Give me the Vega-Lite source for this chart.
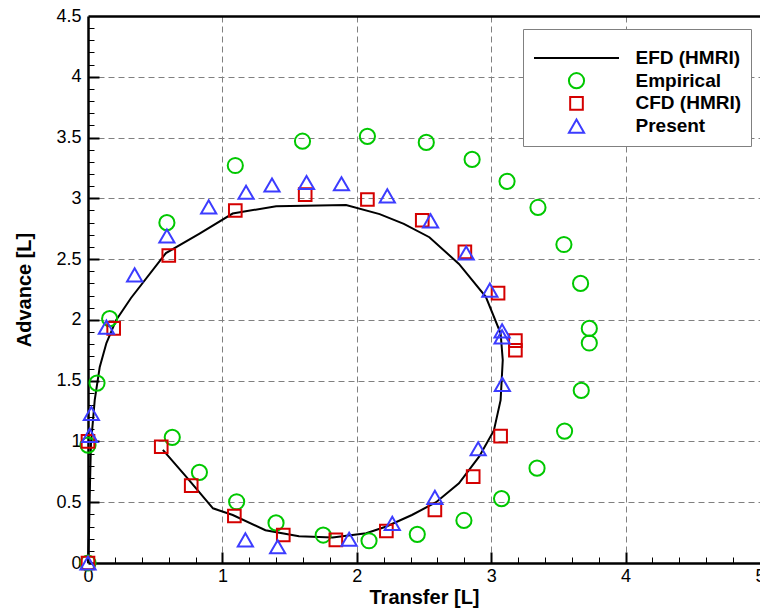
{
  "$schema": "https://vega.github.io/schema/vega-lite/v6.json",
  "width": 672,
  "height": 547,
  "autosize": {"type": "none"},
  "padding": {"left": 88, "top": 16, "right": 0, "bottom": 48},
  "config": {
    "font": "Liberation Sans",
    "view": {"stroke": null},
    "axis": {"labelColor": "black", "titleColor": "black", "domainColor": "black", "tickColor": "black"}
  },
  "datasets": {
    "efd": [
      {"i": 0, "x": 0, "y": 0},
      {"i": 1, "x": 0.007, "y": 0.24},
      {"i": 2, "x": 0.015, "y": 0.66},
      {"i": 3, "x": 0.022, "y": 0.98},
      {"i": 4, "x": 0.05, "y": 1.34},
      {"i": 5, "x": 0.087, "y": 1.61},
      {"i": 6, "x": 0.137, "y": 1.81},
      {"i": 7, "x": 0.21, "y": 2.0},
      {"i": 8, "x": 0.32, "y": 2.18},
      {"i": 9, "x": 0.58, "y": 2.55},
      {"i": 10, "x": 0.83, "y": 2.71},
      {"i": 11, "x": 1.076, "y": 2.875},
      {"i": 12, "x": 1.4, "y": 2.935},
      {"i": 13, "x": 1.92, "y": 2.945},
      {"i": 14, "x": 2.17, "y": 2.87},
      {"i": 15, "x": 2.35, "y": 2.79},
      {"i": 16, "x": 2.54, "y": 2.68},
      {"i": 17, "x": 2.76, "y": 2.46},
      {"i": 18, "x": 2.96, "y": 2.19},
      {"i": 19, "x": 3.07, "y": 1.89},
      {"i": 20, "x": 3.086, "y": 1.67},
      {"i": 21, "x": 3.07, "y": 1.34},
      {"i": 22, "x": 3.02, "y": 1.09},
      {"i": 23, "x": 2.91, "y": 0.875},
      {"i": 24, "x": 2.76, "y": 0.655},
      {"i": 25, "x": 2.59, "y": 0.5},
      {"i": 26, "x": 2.41, "y": 0.395},
      {"i": 27, "x": 2.22, "y": 0.3},
      {"i": 28, "x": 2.07, "y": 0.245},
      {"i": 29, "x": 1.82, "y": 0.21},
      {"i": 30, "x": 1.57, "y": 0.22},
      {"i": 31, "x": 1.32, "y": 0.27},
      {"i": 32, "x": 1.077, "y": 0.395},
      {"i": 33, "x": 0.93, "y": 0.45},
      {"i": 34, "x": 0.73, "y": 0.71},
      {"i": 35, "x": 0.557, "y": 0.93}
    ],
    "pts": [
      {"s": "Empirical", "x": 0, "y": 0},
      {"s": "Empirical", "x": 0, "y": 0.97},
      {"s": "Empirical", "x": 0.067, "y": 1.48},
      {"s": "Empirical", "x": 0.161, "y": 2.01},
      {"s": "Empirical", "x": 0.587, "y": 2.8},
      {"s": "Empirical", "x": 1.096, "y": 3.27},
      {"s": "Empirical", "x": 1.596, "y": 3.47},
      {"s": "Empirical", "x": 2.079, "y": 3.51},
      {"s": "Empirical", "x": 2.517, "y": 3.46},
      {"s": "Empirical", "x": 2.858, "y": 3.32},
      {"s": "Empirical", "x": 3.118, "y": 3.14},
      {"s": "Empirical", "x": 3.348, "y": 2.925},
      {"s": "Empirical", "x": 3.541, "y": 2.62},
      {"s": "Empirical", "x": 3.665, "y": 2.3},
      {"s": "Empirical", "x": 3.73, "y": 1.93},
      {"s": "Empirical", "x": 3.73, "y": 1.81},
      {"s": "Empirical", "x": 3.67, "y": 1.42},
      {"s": "Empirical", "x": 3.546, "y": 1.085},
      {"s": "Empirical", "x": 3.341, "y": 0.78},
      {"s": "Empirical", "x": 3.077, "y": 0.53},
      {"s": "Empirical", "x": 2.797, "y": 0.35},
      {"s": "Empirical", "x": 2.45, "y": 0.236},
      {"s": "Empirical", "x": 2.091, "y": 0.183},
      {"s": "Empirical", "x": 1.75, "y": 0.23},
      {"s": "Empirical", "x": 1.399, "y": 0.33},
      {"s": "Empirical", "x": 1.106, "y": 0.504},
      {"s": "Empirical", "x": 0.829, "y": 0.746},
      {"s": "Empirical", "x": 0.627, "y": 1.034},
      {"s": "CFD (HMRI)", "x": 0, "y": 0},
      {"s": "CFD (HMRI)", "x": 0, "y": 1.0},
      {"s": "CFD (HMRI)", "x": 0.191, "y": 1.93},
      {"s": "CFD (HMRI)", "x": 0.601, "y": 2.53},
      {"s": "CFD (HMRI)", "x": 1.096, "y": 2.9},
      {"s": "CFD (HMRI)", "x": 1.616, "y": 3.03},
      {"s": "CFD (HMRI)", "x": 2.079, "y": 2.99},
      {"s": "CFD (HMRI)", "x": 2.487, "y": 2.82},
      {"s": "CFD (HMRI)", "x": 2.804, "y": 2.56},
      {"s": "CFD (HMRI)", "x": 3.051, "y": 2.22},
      {"s": "CFD (HMRI)", "x": 3.18, "y": 1.83},
      {"s": "CFD (HMRI)", "x": 3.18, "y": 1.75},
      {"s": "CFD (HMRI)", "x": 3.07, "y": 1.044},
      {"s": "CFD (HMRI)", "x": 2.866, "y": 0.71},
      {"s": "CFD (HMRI)", "x": 2.581, "y": 0.436},
      {"s": "CFD (HMRI)", "x": 2.22, "y": 0.263},
      {"s": "CFD (HMRI)", "x": 1.844, "y": 0.19},
      {"s": "CFD (HMRI)", "x": 1.453, "y": 0.23},
      {"s": "CFD (HMRI)", "x": 1.089, "y": 0.387},
      {"s": "CFD (HMRI)", "x": 0.768, "y": 0.636},
      {"s": "CFD (HMRI)", "x": 0.545, "y": 0.956},
      {"s": "Present", "x": 0, "y": 0},
      {"s": "Present", "x": 0.013, "y": 1.05},
      {"s": "Present", "x": 0.025, "y": 1.23},
      {"s": "Present", "x": 0.137, "y": 1.94},
      {"s": "Present", "x": 0.347, "y": 2.37},
      {"s": "Present", "x": 0.587, "y": 2.69},
      {"s": "Present", "x": 0.898, "y": 2.93},
      {"s": "Present", "x": 1.176, "y": 3.05},
      {"s": "Present", "x": 1.369, "y": 3.11},
      {"s": "Present", "x": 1.626, "y": 3.13},
      {"s": "Present", "x": 1.886, "y": 3.12},
      {"s": "Present", "x": 2.227, "y": 3.02},
      {"s": "Present", "x": 2.549, "y": 2.815},
      {"s": "Present", "x": 2.814, "y": 2.55},
      {"s": "Present", "x": 2.99, "y": 2.245},
      {"s": "Present", "x": 3.081, "y": 1.91},
      {"s": "Present", "x": 3.081, "y": 1.86},
      {"s": "Present", "x": 3.083, "y": 1.47},
      {"s": "Present", "x": 2.903, "y": 0.94},
      {"s": "Present", "x": 2.581, "y": 0.54},
      {"s": "Present", "x": 2.264, "y": 0.326},
      {"s": "Present", "x": 1.943, "y": 0.195},
      {"s": "Present", "x": 1.411, "y": 0.134},
      {"s": "Present", "x": 1.171, "y": 0.19}
    ]
  },
  "resolve": {"axis": {"x": "independent", "y": "independent"}},
  "layer": [
    {
      "data": {"name": "efd"},
      "mark": {"type": "point", "opacity": 0},
      "encoding": {
        "x": {"field": "x", "type": "quantitative", "scale": {"domain": [0, 5], "nice": false, "zero": false},
          "axis": {"orient": "bottom", "values": [1, 2, 3, 4], "grid": true, "gridDash": [6, 4], "gridColor": "#808080", "gridWidth": 1, "gridOpacity": 1, "labels": false, "ticks": false, "domain": false, "title": null}},
        "y": {"field": "y", "type": "quantitative", "scale": {"domain": [0, 4.5], "nice": false, "zero": false},
          "axis": {"orient": "left", "values": [0.5, 1, 1.5, 2, 2.5, 3, 3.5, 4], "grid": true, "gridDash": [6, 4], "gridColor": "#808080", "gridWidth": 1, "gridOpacity": 1, "labels": false, "ticks": false, "domain": false, "title": null}}
      }
    },
    {
      "data": {"name": "efd"},
      "mark": {"type": "point", "opacity": 0},
      "encoding": {
        "x": {"field": "x", "type": "quantitative", "scale": {"domain": [0, 5], "nice": false, "zero": false},
          "axis": {"orient": "bottom", "values": [0.2, 0.4, 0.6, 0.8, 1.2, 1.4, 1.6, 1.8, 2.2, 2.4, 2.6, 2.8, 3.2, 3.4, 3.6, 3.8, 4.2, 4.4, 4.6, 4.8], "grid": false, "labels": false, "ticks": true, "tickSize": -6, "tickWidth": 1, "domain": false, "title": null}},
        "y": {"field": "y", "type": "quantitative", "scale": {"domain": [0, 4.5], "nice": false, "zero": false},
          "axis": {"orient": "left", "values": [0.1, 0.2, 0.3, 0.4, 0.6, 0.7, 0.8, 0.9, 1.1, 1.2, 1.3, 1.4, 1.6, 1.7, 1.8, 1.9, 2.1, 2.2, 2.3, 2.4, 2.6, 2.7, 2.8, 2.9, 3.1, 3.2, 3.3, 3.4, 3.6, 3.7, 3.8, 3.9, 4.1, 4.2, 4.3, 4.4], "grid": false, "labels": false, "ticks": true, "tickSize": -6, "tickWidth": 1, "domain": false, "title": null}}
      }
    },
    {
      "data": {"name": "efd"},
      "mark": {"type": "point", "opacity": 0},
      "encoding": {
        "x": {"field": "x", "type": "quantitative", "scale": {"domain": [0, 5], "nice": false, "zero": false},
          "axis": {"orient": "bottom", "values": [1, 2, 3, 4], "grid": false, "labels": false, "ticks": true, "tickSize": -11, "tickWidth": 2, "domain": false, "title": null}},
        "y": {"field": "y", "type": "quantitative", "scale": {"domain": [0, 4.5], "nice": false, "zero": false},
          "axis": {"orient": "left", "values": [0.5, 1, 1.5, 2, 2.5, 3, 3.5, 4], "grid": false, "labels": false, "ticks": true, "tickSize": -11, "tickWidth": 2, "domain": false, "title": null}}
      }
    },
    {
      "data": {"name": "efd"},
      "mark": {"type": "point", "opacity": 0},
      "encoding": {
        "x": {"field": "x", "type": "quantitative", "scale": {"domain": [0, 5], "nice": false, "zero": false},
          "axis": {"orient": "top", "grid": false, "labels": false, "ticks": false, "domain": true, "domainWidth": 2.5, "title": null}},
        "y": {"field": "y", "type": "quantitative", "scale": {"domain": [0, 4.5], "nice": false, "zero": false}, "axis": null}
      }
    },
    {
      "data": {"name": "efd"},
      "mark": {"type": "line", "color": "black", "strokeWidth": 2},
      "encoding": {
        "x": {"field": "x", "type": "quantitative", "scale": {"domain": [0, 5], "nice": false, "zero": false},
          "axis": {"orient": "bottom", "values": [0, 1, 2, 3, 4, 5], "format": "~g", "grid": false, "ticks": false, "domain": true, "domainWidth": 2.5, "labelFontSize": 18, "labelPadding": 4, "labelFlush": false, "labelOverlap": false, "title": "Transfer [L]", "titleFontSize": 20, "titleFontWeight": "bold", "titlePadding": 2}},
        "y": {"field": "y", "type": "quantitative", "scale": {"domain": [0, 4.5], "nice": false, "zero": false},
          "axis": {"orient": "left", "values": [0, 0.5, 1, 1.5, 2, 2.5, 3, 3.5, 4, 4.5], "format": "~g", "grid": false, "ticks": false, "domain": true, "domainWidth": 2.5, "labelFontSize": 18, "labelPadding": 7, "labelFlush": false, "labelOverlap": false, "title": "Advance [L]", "titleFontSize": 20, "titleFontWeight": "bold", "titlePadding": 21}},
        "order": {"field": "i", "type": "quantitative"}
      }
    },
    {
      "data": {"name": "pts"},
      "mark": {"type": "point", "filled": false, "strokeWidth": 2, "opacity": 1},
      "encoding": {
        "x": {"field": "x", "type": "quantitative", "scale": {"domain": [0, 5], "nice": false, "zero": false}, "axis": null},
        "y": {"field": "y", "type": "quantitative", "scale": {"domain": [0, 4.5], "nice": false, "zero": false}, "axis": null},
        "color": {"field": "s", "type": "nominal",
          "scale": {"domain": ["EFD (HMRI)", "Empirical", "CFD (HMRI)", "Present"], "range": ["black", "#00c800", "#d40000", "#3c3cff"]},
          "legend": {
            "orient": "none", "legendX": 435, "legendY": 13,
            "title": " ", "titleFontSize": 4, "titlePadding": 6,
            "padding": 9, "strokeColor": "#808080", "fillColor": "white",
            "labelFont": "Liberation Sans", "labelFontSize": 19, "labelFontWeight": "bold", "labelColor": "black", "labelLimit": 0,
            "clipHeight": 20, "rowPadding": 2.7,
            "symbolType": {"expr": "datum.value === 'EFD (HMRI)' ? 'stroke' : datum.value === 'Empirical' ? 'circle' : datum.value === 'CFD (HMRI)' ? 'square' : 'triangle-up'"},
            "symbolSize": {"expr": "datum.value === 'EFD (HMRI)' ? 7225 : datum.value === 'Empirical' ? 230 : datum.value === 'CFD (HMRI)' ? 160 : 230"},
            "symbolStrokeWidth": 2, "symbolFillColor": "transparent",
            "symbolOffset": 35, "labelOffset": 49.5
          }},
        "shape": {"field": "s", "type": "nominal",
          "scale": {"domain": ["Empirical", "CFD (HMRI)", "Present"], "range": ["circle", "square", "triangle-up"]},
          "legend": null},
        "size": {"condition": {"test": "datum.s === 'CFD (HMRI)'", "value": 160}, "value": 230}
      }
    }
  ]
}
